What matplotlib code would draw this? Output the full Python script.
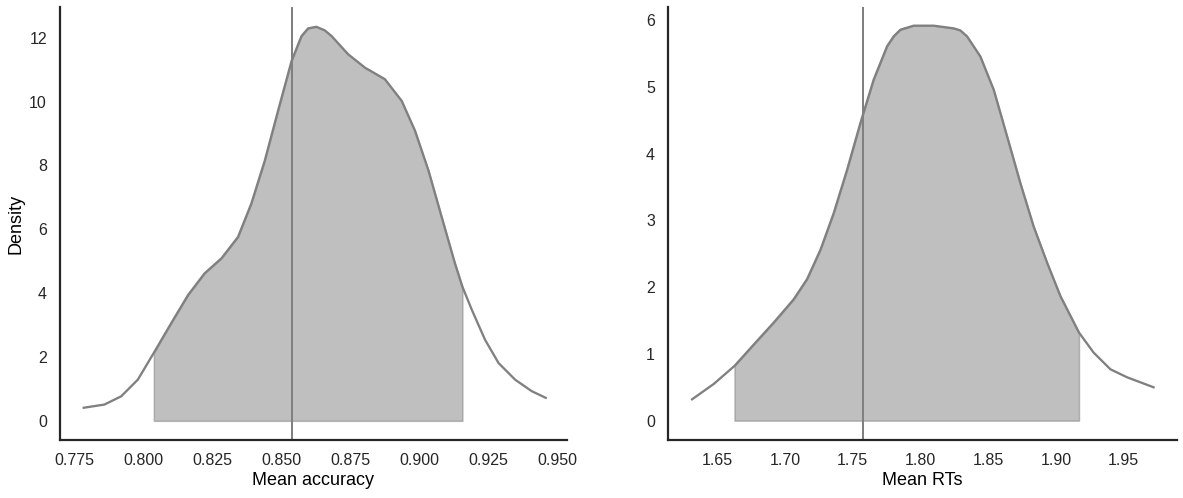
import numpy as np
import matplotlib
matplotlib.use("Agg")
import matplotlib.pyplot as plt

plt.rcParams['font.family'] = ['Liberation Sans', 'DejaVu Sans']

# density curve of mean accuracy
acc_x = [0.7783, 0.7858, 0.7919, 0.7979, 0.8037, 0.8100, 0.8161, 0.8221, 0.8282,
         0.8342, 0.8390, 0.8439, 0.8487, 0.8536, 0.8572, 0.8596, 0.8626, 0.8656,
         0.8681, 0.8741, 0.8802, 0.8874, 0.8935, 0.8983, 0.9032, 0.9080, 0.9128,
         0.9155, 0.9189, 0.9237, 0.9286, 0.9346, 0.9406, 0.9457]
acc_d = [0.41, 0.51, 0.77, 1.29, 2.13, 3.06, 3.94, 4.62, 5.09,
         5.76, 6.80, 8.15, 9.71, 11.27, 12.05, 12.29, 12.34, 12.23,
         12.05, 11.48, 11.06, 10.70, 10.02, 9.09, 7.84, 6.38, 4.93,
         4.20, 3.48, 2.54, 1.81, 1.29, 0.93, 0.72]
acc_hdi = [0.8037, 0.9155]
acc_ref = 0.8538

# density curve of mean RTs
rt_x = [1.6313, 1.6473, 1.6626, 1.6768, 1.6916, 1.7064, 1.7162, 1.7261, 1.7359,
        1.7458, 1.7556, 1.7654, 1.7753, 1.7802, 1.7852, 1.7950, 1.8098, 1.8245,
        1.8294, 1.8344, 1.8442, 1.8541, 1.8640, 1.8738, 1.8836, 1.8935, 1.9033,
        1.9171, 1.9279, 1.9403, 1.9526, 1.9722]
rt_d = [0.32, 0.55, 0.82, 1.14, 1.47, 1.82, 2.12, 2.56, 3.11,
        3.76, 4.46, 5.11, 5.61, 5.76, 5.86, 5.92, 5.92, 5.88,
        5.85, 5.76, 5.46, 4.96, 4.26, 3.56, 2.91, 2.37, 1.87,
        1.32, 1.02, 0.77, 0.65, 0.50]
rt_hdi = [1.6626, 1.9171]
rt_ref = 1.7576

fig = plt.figure(figsize=(1183 / 72, 498 / 72), dpi=72)
ax1 = fig.add_axes([60 / 1183, 58 / 498, 507 / 1183, 433 / 498])
ax2 = fig.add_axes([668 / 1183, 58 / 498, 509 / 1183, 433 / 498])


def draw(ax, xs, ds, hdi, ref, xlabel, xticks):
    xs = np.array(xs)
    ds = np.array(ds)
    ax.plot(xs, ds, color='gray', lw=2.3, solid_joinstyle='round')
    mask = (xs >= hdi[0] - 1e-9) & (xs <= hdi[1] + 1e-9)
    ax.fill_between(xs[mask], 0, ds[mask], color='gray', alpha=0.5, lw=1.5)
    ax.axvline(ref, color='gray', lw=2)
    ax.set_xlabel(xlabel, fontsize=18, labelpad=4)
    ax.set_xticks(xticks)
    ax.tick_params(length=0, labelsize=16, pad=13, colors='#262626')
    for s in ['top', 'right']:
        ax.spines[s].set_visible(False)
    for s in ['left', 'bottom']:
        ax.spines[s].set_linewidth(2.2)
        ax.spines[s].set_color('#262626')


draw(ax1, acc_x, acc_d, acc_hdi, acc_ref, 'Mean accuracy',
     [0.775, 0.800, 0.825, 0.850, 0.875, 0.900, 0.925, 0.950])
ax1.set_xticklabels(['0.775', '0.800', '0.825', '0.850', '0.875', '0.900', '0.925', '0.950'])
ax1.set_xlim(0.7697, 0.9534)
ax1.set_ylim(-0.6, 12.96)
ax1.set_yticks([0, 2, 4, 6, 8, 10, 12])
ax1.set_ylabel('Density', fontsize=18, labelpad=5)

draw(ax2, rt_x, rt_d, rt_hdi, rt_ref, 'Mean RTs',
     [1.65, 1.70, 1.75, 1.80, 1.85, 1.90, 1.95])
ax2.set_xticklabels(['1.65', '1.70', '1.75', '1.80', '1.85', '1.90', '1.95'])
ax2.set_xlim(1.6135, 1.9895)
ax2.set_ylim(-0.29, 6.2)
ax2.set_yticks([0, 1, 2, 3, 4, 5, 6])

fig.savefig('out.png', dpi=72)
